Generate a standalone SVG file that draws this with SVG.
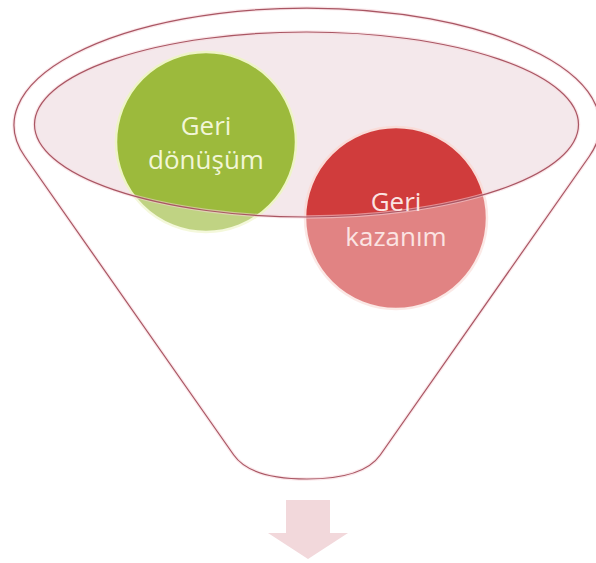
<svg xmlns="http://www.w3.org/2000/svg" width="596" height="563" viewBox="0 0 596 563">
  <defs>
    <style>
      .outline { fill: none; stroke: #a95663; stroke-width: 1.2; }
      .halo { fill: none; stroke: #f6d3d9; stroke-width: 3.5; stroke-opacity: 0.55; }
      .label { font-family: "Open Sans", "Liberation Sans", sans-serif; font-size: 26px; text-anchor: middle; }
    </style>
    <!-- funnel silhouette: elliptical rim, tangent sides, rounded spout -->
    <path id="funnel-shape" d="M 24.8,156.5 A 293 117 0 1 1 589.2,156.5 L 380.25,455 C 367.65,473 340,479 307,479 C 274,479 246.35,473 233.75,455 Z"/>
    <ellipse id="rim-shape" cx="306.5" cy="124.5" rx="272" ry="92.5"/>
  </defs>

  <rect width="596" height="563" fill="#ffffff"/>

  <!-- inner opening of the funnel -->
  <g id="funnel-opening">
    <use href="#rim-shape" fill="#f4e8eb"/>
  </g>

  <!-- items dropped into the funnel -->
  <g id="node-geri-donusum">
    <circle cx="206" cy="142" r="90" fill="#9cba3c" stroke="#eef4c6" stroke-width="2.5"/>
  </g>
  <g id="node-geri-kazanim">
    <circle cx="396" cy="218" r="91" fill="#d03c3c" stroke="#f9dcd8" stroke-width="2.5"/>
  </g>

  <!-- translucent funnel body over the lower parts of the items -->
  <g id="funnel-body">
    <path d="M 24.8,156.5 A 293 117 0 1 1 589.2,156.5 L 380.25,455 C 367.65,473 340,479 307,479 C 274,479 246.35,473 233.75,455 Z M 34.5,124.5 A 272 92.5 0 1 0 578.5,124.5 A 272 92.5 0 1 0 34.5,124.5 Z" fill="#ffffff" fill-opacity="0.37" fill-rule="evenodd"/>
    <use href="#funnel-shape" class="halo"/>
    <use href="#rim-shape" class="halo"/>
    <use href="#funnel-shape" class="outline"/>
    <use href="#rim-shape" class="outline"/>
  </g>

  <!-- labels -->
  <g id="labels">
    <text class="label" x="206" y="135" fill="#f2f6d8">Geri</text>
    <text class="label" x="206" y="169" fill="#f2f6d8">dönüşüm</text>
    <text class="label" x="396" y="211" fill="#fbe4e2">Geri</text>
    <text class="label" x="396" y="246" fill="#fbe4e2">kazanım</text>
  </g>

  <!-- output arrow below the spout -->
  <g id="connectors">
    <path d="M 286,500 L 330,500 L 330,533 L 348,533 L 308,559 L 268,533 L 286,533 Z" fill="#f2d8db"/>
  </g>
</svg>
